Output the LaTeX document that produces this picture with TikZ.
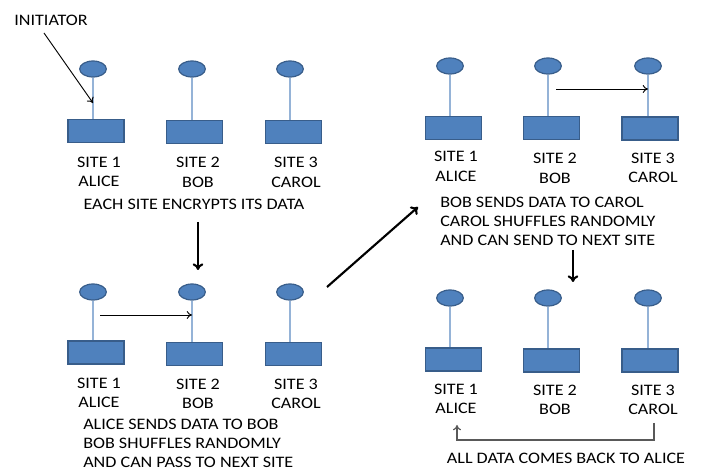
\documentclass[tikz,border=0pt]{standalone}
\usepackage{fontspec}
\setmainfont{Carlito}[FakeStretch=1.13]
\usetikzlibrary{shapes.geometric,arrows.meta}
\definecolor{bluefill}{HTML}{4F81BD}
\definecolor{blueborder}{HTML}{385D8A}
\definecolor{stemblue}{HTML}{95B3D7}
\definecolor{retgrey}{HTML}{595959}
\tikzset{
  sitebox/.style={rectangle, draw=blueborder, fill=bluefill, line width=1.1pt, minimum width=42pt, minimum height=17pt, inner sep=0pt},
  headnode/.style={ellipse, draw=blueborder, fill=bluefill, line width=0.9pt, minimum width=20pt, minimum height=12pt, inner sep=0pt},
  stemline/.style={draw=stemblue, line width=1.2pt},
  lbl/.style={font=\fontsize{12}{14.5}\selectfont, align=center, inner sep=0pt},
  captext/.style={font=\fontsize{12}{14.2}\selectfont, align=left, inner sep=0pt},
  thinarrow/.style={draw=black, line width=0.7pt, -{To[length=4pt,width=6pt]}},
  thickarrow/.style={draw=black, line width=1.6pt, -{To[length=5pt,width=8pt]}},
  retarrow/.style={draw=retgrey, line width=0.9pt, -{To[length=4pt,width=6pt]}},
}
\begin{document}
\begin{tikzpicture}[x=0.75pt,y=-0.75pt]
\useasboundingbox (0,0) rectangle (701,470);
% ---------- Panel 1 ----------
\node[headnode] (e11) at (93,69) {};
\node[headnode] (e12) at (192,69) {};
\node[headnode] (e13) at (290,69) {};
\node[sitebox] (r11) at (96,131) {};
\node[sitebox] (r12) at (194.5,132) {};
\node[sitebox] (r13) at (293.5,132) {};
\draw[stemline] (e11.south) -- (e11.south |- r11.north);
\draw[stemline] (e12.south) -- (e12.south |- r12.north);
\draw[stemline] (e13.south) -- (e13.south |- r13.north);
\node[lbl] (l11) at (99,172) {SITE 1\\ALICE};
\node[lbl] (l12) at (198,172.5) {SITE 2\\BOB};
\node[lbl] (l13) at (296,172.5) {SITE 3\\CAROL};
\node[lbl] (c1) at (194,204) {EACH SITE ENCRYPTS ITS DATA};
\node[lbl] (init) at (51,20) {INITIATOR};
\coordinate (ia) at (44,33);
\coordinate (ib) at (93,103);
\draw[thinarrow] (ia) -- (ib);
% ---------- Panel 2 ----------
\node[headnode] (e21) at (93,292) {};
\node[headnode] (e22) at (192,292) {};
\node[headnode] (e23) at (290,292) {};
\node[sitebox] (r21) at (96,352.5) {};
\node[sitebox] (r22) at (194.5,354) {};
\node[sitebox] (r23) at (293.5,354) {};
\draw[stemline] (e21.south) -- (e21.south |- r21.north);
\draw[stemline] (e22.south) -- (e22.south |- r22.north);
\draw[stemline] (e23.south) -- (e23.south |- r23.north);
\node[lbl] (l21) at (99,393) {SITE 1\\ALICE};
\node[lbl] (l22) at (198,394) {SITE 2\\BOB};
\node[lbl] (l23) at (296,394) {SITE 3\\CAROL};
\node[captext, anchor=west] (c2) at (83,443.5) {ALICE SENDS DATA TO BOB\\BOB SHUFFLES RANDOMLY\\AND CAN PASS TO NEXT SITE};
\coordinate (a2s) at (100,315);
\coordinate (a2e) at (192,315);
\draw[thinarrow] (a2s) -- (a2e);
% ---------- Panel 3 ----------
\node[headnode] (e31) at (450,66) {};
\node[headnode] (e32) at (548,66) {};
\node[headnode] (e33) at (648,66) {};
\node[sitebox] (r31) at (453.5,128) {};
\node[sitebox] (r32) at (551.5,128) {};
\node[sitebox] (r33) at (650,128.5) {};
\draw[stemline] (e31.south) -- (e31.south |- r31.north);
\draw[stemline] (e32.south) -- (e32.south |- r32.north);
\draw[stemline] (e33.south) -- (e33.south |- r33.north);
\node[lbl] (l31) at (456,166.5) {SITE 1\\ALICE};
\node[lbl] (l32) at (555,168.5) {SITE 2\\BOB};
\node[lbl] (l33) at (653,168) {SITE 3\\CAROL};
\node[captext, anchor=west] (c3) at (440,221) {BOB SENDS DATA TO CAROL\\CAROL SHUFFLES RANDOMLY\\AND CAN SEND TO NEXT SITE};
\coordinate (a3s) at (556,89);
\coordinate (a3e) at (648,89);
\draw[thinarrow] (a3s) -- (a3e);
% ---------- Panel 4 ----------
\node[headnode] (e41) at (450,298) {};
\node[headnode] (e42) at (548,298) {};
\node[headnode] (e43) at (648,298) {};
\node[sitebox] (r41) at (453.5,359.5) {};
\node[sitebox] (r42) at (551.5,360.5) {};
\node[sitebox] (r43) at (650,360.5) {};
\draw[stemline] (e41.south) -- (e41.south |- r41.north);
\draw[stemline] (e42.south) -- (e42.south |- r42.north);
\draw[stemline] (e43.south) -- (e43.south |- r43.north);
\node[lbl] (l41) at (456,399) {SITE 1\\ALICE};
\node[lbl] (l42) at (555,400) {SITE 2\\BOB};
\node[lbl] (l43) at (653,400) {SITE 3\\CAROL};
\node[lbl] (c4) at (566,458) {ALL DATA COMES BACK TO ALICE};
\coordinate (rs) at (654,423);
\coordinate (re) at (457,425);
\draw[retarrow] (rs) -- (654,440) -- (457,440) -- (re);
% ---------- Between panels ----------
\coordinate (t1s) at (198,222);
\coordinate (t1e) at (198,270);
\draw[thickarrow] (t1s) -- (t1e);
\coordinate (ds) at (327,287);
\coordinate (de) at (418,207);
\draw[thickarrow] (ds) -- (de);
\coordinate (t2s) at (573,250);
\coordinate (t2e) at (573,282);
\draw[thickarrow] (t2s) -- (t2e);
\end{tikzpicture}
\end{document}
